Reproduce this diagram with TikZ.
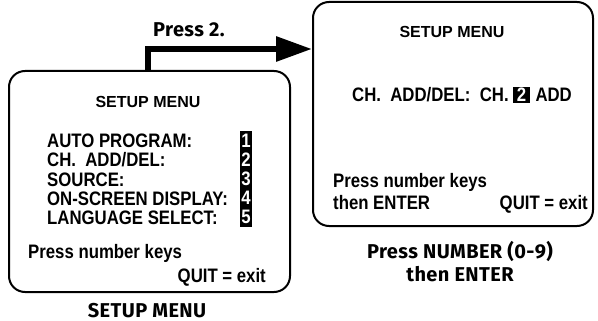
\documentclass[tikz,border=0pt]{standalone}
\usepackage{fontspec}
\newfontfamily\menufont[FakeStretch=0.86]{Liberation Sans}
\newfontfamily\titlefont{Liberation Sans}
\newfontfamily\capfont[LetterSpace=2]{Fira Sans}
\usetikzlibrary{arrows.meta,positioning}
\tikzset{
  screen/.style={draw,line width=2pt,rounded corners=16pt,inner sep=0pt},
  menutxt/.style={font=\menufont\bfseries\fontsize{19.5}{22}\selectfont,inner sep=0pt,anchor=base west},
  titletxt/.style={font=\titlefont\bfseries\fontsize{16}{18}\selectfont,inner sep=0pt,anchor=base},
  captxt/.style={font=\capfont\bfseries\fontsize{20}{24}\selectfont,inner sep=0pt,anchor=base},
  numbox/.style={fill=black,text=white,font=\menufont\bfseries\fontsize{19.5}{22}\selectfont,inner sep=0pt,minimum width=12pt,minimum height=19pt}
}

\begin{document}
\begin{tikzpicture}[x=1pt,y=-1pt,>={Triangle[length=36pt,width=24pt]}]
\useasboundingbox (0,0) rectangle (598,321);
\node[screen,minimum width=281pt,minimum height=221pt] (setup) at (149.5,181.5) {};
\node[screen,minimum width=280pt,minimum height=224pt] (chadd) at (453,114) {};

\node[titletxt] (setuptitle) at (148,108) {SETUP MENU};
\foreach \txt [count=\i] in {{AUTO PROGRAM:},{CH.\ \ ADD/DEL:},{SOURCE:},{ON-SCREEN DISPLAY:},{LANGUAGE SELECT:}}{
  \node[menutxt] (item\i) at (47,129+19*\i) {\txt};
  \node[numbox] (num\i) at (246,122+19*\i) {\i};
}
\node[menutxt] (presskeys) at (28,258) {Press number keys};
\node[menutxt,anchor=base east] (quit) at (266,282) {QUIT = exit};
\node[captxt] (setupcap) at (147,317) {SETUP MENU};

\node[titletxt] (chtitle) at (452,38) {SETUP MENU};
\node[menutxt] (chline) at (352,102) {CH.\ \ ADD/DEL:\ \ CH.};
\node[numbox,minimum width=17pt,minimum height=16pt,anchor=base west] (chnum) at ([xshift=4pt]chline.base east) {2};
\node[menutxt] (addtxt) at ([xshift=5pt]chnum.base east) {ADD};
\node[menutxt] (chpress) at (333,187) {Press number keys};
\node[menutxt] (chenter) at (333,209) {then ENTER};
\node[menutxt,anchor=base east] (chquit) at (588,209) {QUIT = exit};
\node[captxt] (numcap) at (460,258) {Press NUMBER (0-9)};
\node[captxt] (entercap) at (460,281) {then ENTER};

\node[captxt,anchor=base west] (press2) at (153,37) {Press 2.};
\coordinate (bend) at (148,49);
\coordinate (start) at (setup.north -| bend);
\draw[->,line width=6pt] (start) |- (chadd.west |- bend);
\end{tikzpicture}
\end{document}
